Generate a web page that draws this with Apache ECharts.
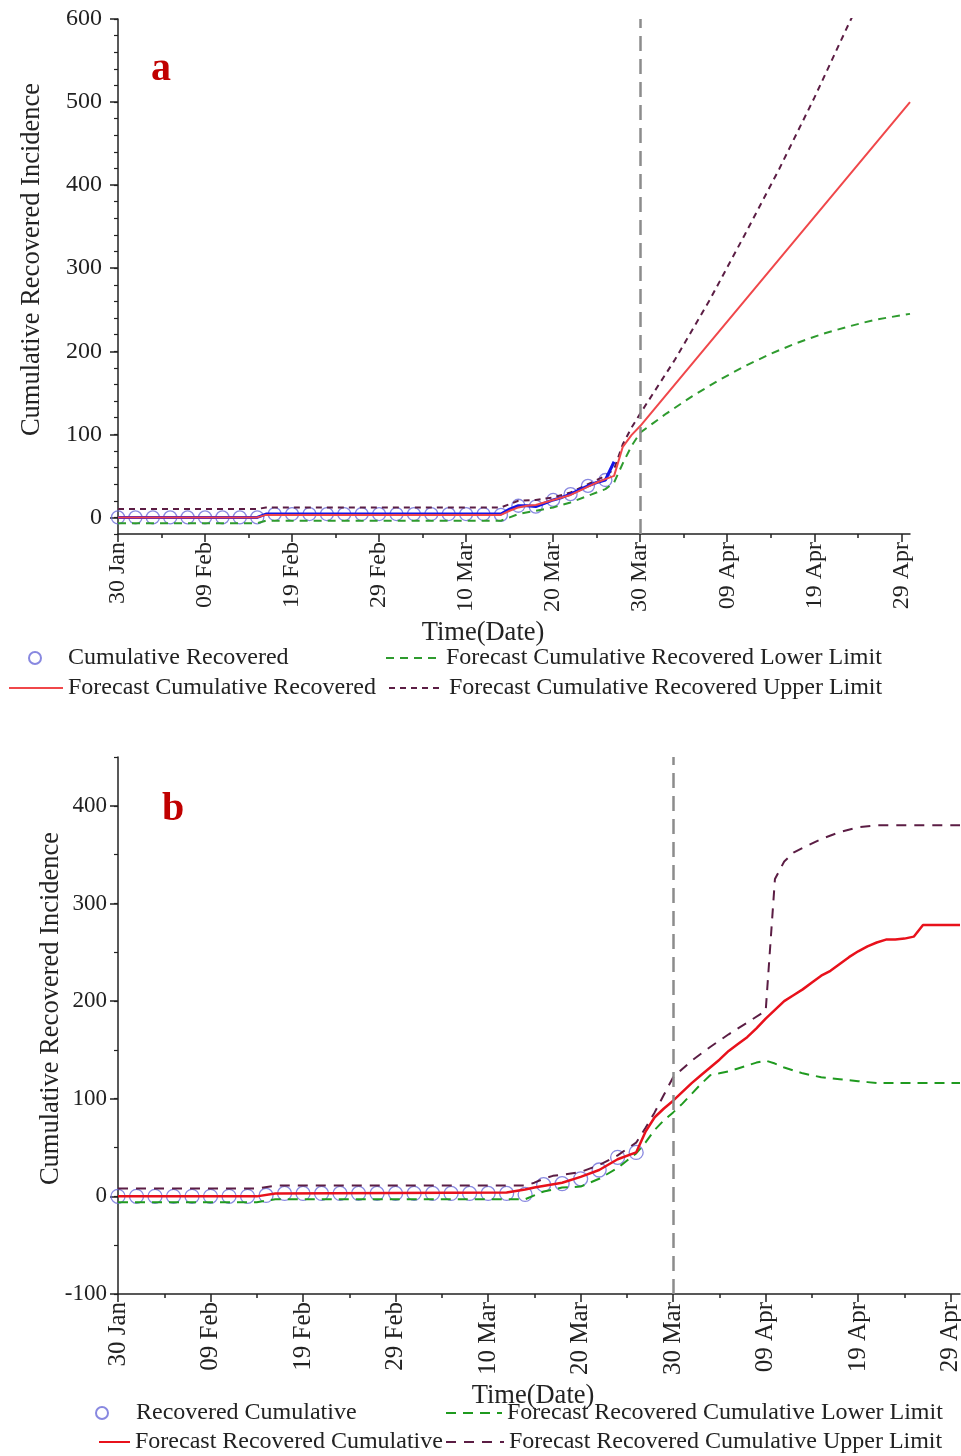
<!DOCTYPE html>
<html>
<head>
<meta charset="utf-8">
<title>Cumulative Recovered Incidence</title>
<script src="https://cdn.jsdelivr.net/npm/echarts@6/dist/echarts.min.js"></script>
<style>
  html, body { margin: 0; padding: 0; background: #fff; }
  #chart { width: 961px; height: 1456px; }
</style>
</head>
<body>
<div id="chart"></div>
<script>
// x values are days counted from 30 Jan 2020 (day 0)
const tickDays = [0, 10, 20, 30, 40, 50, 60, 70, 80, 90];
const tickLabels = ['30 Jan', '09 Feb', '19 Feb', '29 Feb', '10 Mar', '20 Mar', '30 Mar', '09 Apr', '19 Apr', '29 Apr'];
const minorDays = [5, 15, 25, 35, 45, 55, 65, 75, 85];
const forecastDay = 60; // 30 Mar

// observed points (every second day), both panels
const obsDays = [0, 2, 4, 6, 8, 10, 12, 14, 16, 18, 20, 22, 24, 26, 28, 30, 32, 34, 36, 38, 40, 42, 44, 46, 48, 50, 52, 54, 56];

// ---- panel a
const obsA = [0, 0, 0, 0, 0, 0, 0, 0, 0, 4, 4, 4, 4, 4, 4, 4, 4, 4, 4, 4, 4, 4, 3, 14, 13, 21, 28, 38, 45];
const lineDaysA = [0, 16, 17, 44, 45, 46, 47, 48, 49, 50, 51, 52, 53, 54, 55, 56, 57];
const lineA = [0, 0, 4, 4, 10, 14, 14, 13, 17, 21, 24, 28, 33, 38, 42, 45, 67];
const redDaysA = [0, 16, 17, 44, 45, 46, 47, 48, 49, 50, 51, 52, 53, 54, 55, 56, 57, 58, 59, 60, 91];
const redA = [0, 0, 3, 3, 8, 12, 14, 15, 18, 21, 24, 27, 32, 37, 42, 46, 50, 85, 99, 110, 500];
const lowDaysA = [0, 16, 17, 44, 45, 46, 48, 50, 52, 54, 56, 57, 58, 59, 60, 63, 66, 69, 72, 75, 78, 81, 84, 87, 91];
const lowA = [-7, -7, -4, -4, 0, 4, 8, 12, 18, 26, 34, 42, 65, 86, 102, 125, 146, 165, 182, 197, 210, 221, 230, 238, 245];
const upDaysA = [0, 16, 17, 44, 45, 46, 48, 50, 52, 54, 56, 57, 58, 59, 60, 64, 68, 72, 76, 80, 84, 88];
const upA = [10, 10, 12, 12, 16, 20, 21, 24, 30, 40, 50, 58, 88, 108, 125, 190, 262, 340, 420, 505, 595, 680];
const yTicksA = [0, 100, 200, 300, 400, 500, 600];

// ---- panel b
const obsB = [0, 0, 0, 0, 0, 0, 0, 0, 1, 3, 3, 3, 3, 3, 3, 3, 3, 3, 3, 3, 3, 3, 2, 12, 13, 18, 27, 40, 45];
const redDaysB = [0, 15, 17, 42, 44, 45, 48, 50, 52, 54, 56, 57, 58, 59, 60, 61, 62, 63, 64, 65, 66, 67, 68, 69, 70, 71, 72, 73, 74, 75, 76, 77, 78, 79, 80, 81, 82, 83, 84, 85, 86, 87, 91];
const redB = [0, 0, 3, 4, 7, 9, 14, 20, 27, 38, 45, 66, 81, 90, 98, 107, 116, 124, 132, 140, 149, 156, 163, 172, 182, 191, 200, 206, 212, 219, 226, 231, 238, 245, 251, 256, 260, 263, 263, 264, 266, 278, 278];
const lowDaysB = [0, 15, 17, 44, 46, 48, 50, 52, 54, 56, 57, 58, 59, 60, 61, 62, 63, 64, 65, 66, 67, 68, 69, 70, 71, 72, 73, 74, 75, 76, 77, 78, 79, 80, 81, 82, 91];
const lowB = [-6, -6, -3, -3, 5, 9, 10, 18, 29, 44, 55, 68, 78, 86, 95, 105, 115, 124, 126, 128, 131, 134, 137, 139, 136, 132, 129, 126, 124, 122, 121, 120, 119, 118, 117, 116, 116];
const upDaysB = [0, 15, 17, 44, 45, 46, 47, 48, 50, 52, 54, 56, 57, 58, 59, 60, 62, 64, 66, 68, 70, 71, 72, 73, 74, 76, 78, 80, 82, 91];
const upB = [8, 8, 11, 11, 14, 18, 21, 22, 25, 32, 42, 55, 70, 86, 104, 122, 139, 153, 166, 178, 190, 325, 343, 352, 357, 366, 373, 378, 380, 380];
const yTicksB = [-100, 0, 100, 200, 300, 400];

const serif = "'Liberation Serif', 'Times New Roman', serif";
const ink = '#222';

function pairs(xs, ys) {
  return xs.map((x, i) => [x, ys[i]]);
}

function dayLabel(v) {
  const i = tickDays.indexOf(v);
  return i < 0 ? '' : tickLabels[i];
}

function mainX(grid, labelSize, namePad, nameGap) {
  return {
    type: 'value', gridIndex: grid, position: 'bottom', min: 0, max: 91,
    name: 'Time(Date)', nameLocation: 'middle', nameGap: nameGap, nameMoveOverlap: false,
    nameTextStyle: { fontFamily: serif, fontSize: 26.5, color: ink, padding: namePad },
    axisLine: { onZero: false, lineStyle: { color: ink, width: 1.5 } },
    axisTick: { customValues: tickDays, length: 8, lineStyle: { color: ink, width: 1.5 } },
    axisLabel: { customValues: tickDays, rotate: 90, margin: 8, fontFamily: serif, fontSize: labelSize, color: ink, formatter: dayLabel },
    splitLine: { show: false }
  };
}

function minorX(grid) {
  return {
    type: 'value', gridIndex: grid, position: 'bottom', min: 0, max: 91,
    axisLine: { show: false, onZero: false },
    axisTick: { customValues: minorDays, length: 4, lineStyle: { color: ink, width: 1.5 } },
    axisLabel: { show: false },
    splitLine: { show: false }
  };
}

function mainY(grid, min, max, ticks, labelSize, margin, nameGap) {
  return {
    type: 'value', gridIndex: grid, position: 'left', min: min, max: max,
    name: 'Cumulative Recovered Incidence', nameLocation: 'middle', nameGap: nameGap, nameMoveOverlap: false,
    nameTextStyle: { fontFamily: serif, fontSize: 26.5, color: ink, padding: [0, 0, 0, 34] },
    axisLine: { onZero: false, lineStyle: { color: ink, width: 1.5 } },
    axisTick: { customValues: ticks, length: 8, lineStyle: { color: ink, width: 1.5 } },
    axisLabel: { customValues: ticks, margin: margin, fontFamily: serif, fontSize: labelSize, color: ink },
    splitLine: { show: false }
  };
}

function minorY(grid, min, max, step) {
  return {
    type: 'value', gridIndex: grid, position: 'left', min: min, max: max, interval: step,
    axisLine: { show: false, onZero: false },
    axisTick: { length: 4, lineStyle: { color: ink, width: 1.2 } },
    axisLabel: { show: false },
    splitLine: { show: false }
  };
}

function dashed(name, ax, days, vals, color, dash) {
  return {
    name: name, type: 'line', xAxisIndex: ax, yAxisIndex: ax,
    data: pairs(days, vals), symbol: 'none', showSymbol: false,
    lineStyle: { color: color, width: 2, type: dash }, itemStyle: { color: color }
  };
}

// one legend box per entry so each can sit where the original puts it
function legendItem(name, left, top, width, isLine) {
  const lg = {
    data: [name], left: left, top: top, padding: 0, orient: 'horizontal',
    itemWidth: width, itemHeight: 12, itemGap: 0, selectedMode: false,
    textStyle: { fontFamily: serif, fontSize: 24, color: ink }
  };
  if (isLine) lg.itemStyle = { color: 'rgba(0,0,0,0)', borderWidth: 0 };
  return lg;
}

const vLine = {
  silent: true, symbol: 'none', label: { show: false },
  lineStyle: { color: '#8c8c8c', width: 2.5, type: [15, 8] },
  data: [{ xAxis: forecastDay }]
};

const option = {
  animation: false,
  backgroundColor: '#fff',
  grid: [
    { left: 118, top: 19, width: 792, height: 515, outerBoundsMode: 'none' },
    { left: 118, top: 757, width: 842, height: 537, outerBoundsMode: 'none' }
  ],
  xAxis: [mainX(0, 24, [0, 62, 0, 0], 86), minorX(0), mainX(1, 25, [0, 12, 0, 0], 89), minorX(1)],
  yAxis: [
    mainY(0, -20, 600, yTicksA, 24, 16, 72), minorY(0, -20, 600, 20),
    mainY(1, -100, 450, yTicksB, 23, 11, 53), minorY(1, -100, 450, 50)
  ],
  legend: [
    legendItem('Cumulative Recovered', 28, 646, 56, false),
    legendItem('Forecast Cumulative Recovered', 8, 676, 54, true),
    legendItem('Forecast Cumulative Recovered Lower Limit', 385, 646, 55, true),
    legendItem('Forecast Cumulative Recovered Upper Limit', 388, 676, 55, true),
    legendItem('Recovered Cumulative', 95, 1401, 58, false),
    legendItem('Forecast Recovered Cumulative', 98, 1430, 31, true),
    legendItem('Forecast Recovered Cumulative Lower Limit', 445, 1401, 56, true),
    legendItem('Forecast Recovered Cumulative Upper Limit', 445, 1430, 58, true)
  ],
  graphic: [
    { type: 'text', left: 151, top: 50, style: { text: 'a', fontFamily: serif, fontSize: 40, fontWeight: 'bold', fill: '#c00000' } },
    { type: 'text', left: 162, top: 790, style: { text: 'b', fontFamily: serif, fontSize: 40, fontWeight: 'bold', fill: '#c00000' } }
  ],
  series: [
    // panel a
    dashed('Forecast Cumulative Recovered Lower Limit', 0, lowDaysA, lowA, '#2e9b2e', [8, 6]),
    dashed('Forecast Cumulative Recovered Upper Limit', 0, upDaysA, upA, '#5b1d44', [6, 5]),
    {
      name: 'Cumulative Recovered', type: 'scatter', xAxisIndex: 0, yAxisIndex: 0,
      data: pairs(obsDays, obsA), symbol: 'circle', symbolSize: 13,
      itemStyle: { color: 'rgba(0,0,0,0)', borderColor: '#6a6ad8', borderWidth: 1.3 }
    },
    {
      name: 'observed line a', type: 'line', xAxisIndex: 0, yAxisIndex: 0,
      data: pairs(lineDaysA, lineA), symbol: 'none', showSymbol: false,
      lineStyle: { color: '#1414e6', width: 3 }
    },
    {
      name: 'Forecast Cumulative Recovered', type: 'line', xAxisIndex: 0, yAxisIndex: 0,
      data: pairs(redDaysA, redA), symbol: 'none', showSymbol: false,
      lineStyle: { color: '#f0474a', width: 2 }, itemStyle: { color: '#f0474a' },
      markLine: vLine
    },
    // panel b
    dashed('Forecast Recovered Cumulative Lower Limit', 2, lowDaysB, lowB, '#1f9a1f', [10, 7]),
    dashed('Forecast Recovered Cumulative Upper Limit', 2, upDaysB, upB, '#5b1d44', [10, 8]),
    {
      name: 'Recovered Cumulative', type: 'scatter', xAxisIndex: 2, yAxisIndex: 2,
      data: pairs(obsDays, obsB), symbol: 'circle', symbolSize: 14,
      itemStyle: { color: 'rgba(0,0,0,0)', borderColor: '#6a6ad8', borderWidth: 1.3 }
    },
    {
      name: 'Forecast Recovered Cumulative', type: 'line', xAxisIndex: 2, yAxisIndex: 2,
      data: pairs(redDaysB, redB), symbol: 'none', showSymbol: false,
      lineStyle: { color: '#e8111b', width: 2.5 }, itemStyle: { color: '#e8111b' },
      markLine: vLine
    }
  ]
};

const chart = echarts.init(document.getElementById('chart'));
chart.setOption(option);
</script>
</body>
</html>
